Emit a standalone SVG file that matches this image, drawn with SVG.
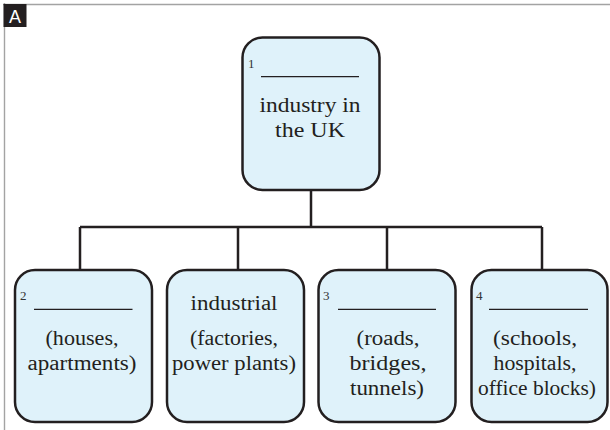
<svg xmlns="http://www.w3.org/2000/svg" width="610" height="430" viewBox="0 0 610 430">
<style>
.box{fill:#dff2fa;stroke:#231f20;stroke-width:2.5}
.con{fill:none;stroke:#231f20;stroke-width:2.5}
.t{font-family:"Liberation Serif","Times New Roman",serif;font-size:20px;fill:#231f20;text-anchor:middle}
.n{font-family:"Liberation Serif","Times New Roman",serif;font-size:13px;fill:#333}
.u{stroke:#231f20;stroke-width:1.2}
</style>
<rect x="0" y="0" width="610" height="430" fill="#fff"/>
<g id="frame">
<line x1="3" y1="4.5" x2="610" y2="4.5" stroke="#a3a3a3" stroke-width="1.4"/>
<line x1="4.5" y1="3" x2="4.5" y2="430" stroke="#a3a3a3" stroke-width="1.4"/>
<rect x="3.5" y="4" width="23" height="23" fill="#231f20"/>
<text x="15" y="22.5" font-family="Liberation Sans,Arial,sans-serif" font-size="18" fill="#fff" text-anchor="middle">A</text>
</g>
<g id="connectors">
<path class="con" d="M311 190 V227 M80 227 H542 M80 227 V270 M238 227 V270 M387 227 V270 M542 227 V270"/>
</g>
<g id="node-top">
<rect class="box" x="242.5" y="37.5" width="137" height="152.5" rx="20"/>
<text class="n" x="248" y="67.5">1</text>
<line class="u" x1="261" y1="76.7" x2="359" y2="76.7"/>
<text class="t" x="310" y="112" textLength="101" lengthAdjust="spacingAndGlyphs">industry in</text>
<text class="t" x="310" y="137" textLength="70" lengthAdjust="spacingAndGlyphs">the UK</text>
</g>
<g id="node-2">
<rect class="box" x="15" y="270" width="137" height="152" rx="20"/>
<text class="n" x="20" y="300">2</text>
<line class="u" x1="34" y1="309.3" x2="132.5" y2="309.3"/>
<text class="t" x="82" y="345" textLength="73" lengthAdjust="spacingAndGlyphs">(houses,</text>
<text class="t" x="82" y="370" textLength="109" lengthAdjust="spacingAndGlyphs">apartments)</text>
</g>
<g id="node-industrial">
<rect class="box" x="167" y="270" width="137" height="152" rx="20"/>
<text class="t" x="234" y="310" textLength="87" lengthAdjust="spacingAndGlyphs">industrial</text>
<text class="t" x="234" y="345" textLength="88" lengthAdjust="spacingAndGlyphs">(factories,</text>
<text class="t" x="234" y="370" textLength="124" lengthAdjust="spacingAndGlyphs">power plants)</text>
</g>
<g id="node-3">
<rect class="box" x="318.5" y="270" width="137" height="152" rx="20"/>
<text class="n" x="323" y="300">3</text>
<line class="u" x1="338" y1="309.3" x2="436" y2="309.3"/>
<text class="t" x="388" y="345" textLength="63" lengthAdjust="spacingAndGlyphs">(roads,</text>
<text class="t" x="388" y="370" textLength="77" lengthAdjust="spacingAndGlyphs">bridges,</text>
<text class="t" x="387" y="395" textLength="74" lengthAdjust="spacingAndGlyphs">tunnels)</text>
</g>
<g id="node-4">
<rect class="box" x="471.5" y="270" width="136" height="152" rx="20"/>
<text class="n" x="476" y="300">4</text>
<line class="u" x1="489" y1="309.3" x2="588" y2="309.3"/>
<text class="t" x="535" y="345" textLength="84" lengthAdjust="spacingAndGlyphs">(schools,</text>
<text class="t" x="535" y="370" textLength="83" lengthAdjust="spacingAndGlyphs">hospitals,</text>
<text class="t" x="537" y="395" textLength="118" lengthAdjust="spacingAndGlyphs">office blocks)</text>
</g>
</svg>
